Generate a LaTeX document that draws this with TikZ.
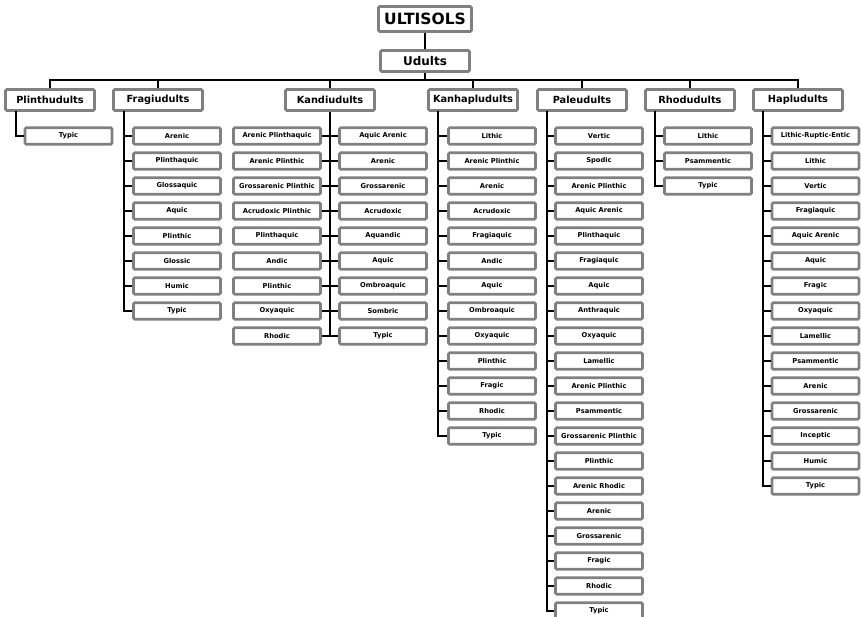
\documentclass[tikz,border=0pt]{standalone}
\usepackage{fontspec}
\setmainfont{DejaVu Sans}
\definecolor{boxgray}{RGB}{128,128,128}
\tikzset{
  basebox/.style={draw=boxgray, line width=2.6pt, fill=white, rounded corners=1.2pt, inner sep=0pt, anchor=center, font=\bfseries},
  topbox/.style={basebox, minimum width=93pt, minimum height=25pt, font=\bfseries\fontsize{15.5}{16}\selectfont},
  udbox/.style={basebox, minimum width=89pt, minimum height=21pt, font=\bfseries\fontsize{12}{13}\selectfont},
  grpbox/.style={basebox, minimum width=89pt, minimum height=21pt, font=\bfseries\fontsize{9.8}{10}\selectfont},
  leafbox/.style={basebox, minimum width=87pt, minimum height=16.5pt, font=\bfseries\fontsize{6.7}{7}\selectfont},
  conn/.style={draw=black, line width=2pt}
}
\begin{document}
\begin{tikzpicture}[x=1pt,y=-1pt]
\useasboundingbox (0,0) rectangle (861,617);
% connector anchor points
\coordinate (bus) at (425,80);
\coordinate (ta) at (16,111);
\coordinate (tb) at (124,111);
\coordinate (td) at (438,111);
\coordinate (te) at (547,111);
\coordinate (tf) at (655,111);
\coordinate (th) at (763,111);
% top
\node[topbox] (ult) at (425,19) {ULTISOLS};
\node[udbox] (ud) at (425,61) {Udults};
% groups
\node[grpbox] (g1) at (50,100) {Plinthudults};
\node[grpbox] (g2) at (158,100) {Fragiudults};
\node[grpbox] (g3) at (330,100) {Kandiudults};
\node[grpbox] (g4) at (473,100) {Kanhapludults};
\node[grpbox] (g5) at (582,100) {Paleudults};
\node[grpbox] (g6) at (690,100) {Rhodudults};
\node[grpbox] (g7) at (798,100) {Hapludults};
% leaves
\foreach \t [count=\i] in {Typic}
  \node[leafbox] (a\i) at (68.5,{136+25*(\i-1)}) {\t};
\foreach \t [count=\i] in {Arenic,Plinthaquic,Glossaquic,Aquic,Plinthic,Glossic,Humic,Typic}
  \node[leafbox] (b\i) at (177,{136+25*(\i-1)}) {\t};
\foreach \t [count=\i] in {Arenic Plinthaquic,Arenic Plinthic,Grossarenic Plinthic,Acrudoxic Plinthic,Plinthaquic,Andic,Plinthic,Oxyaquic,Rhodic}
  \node[leafbox] (cl\i) at (277,{136+25*(\i-1)}) {\t};
\foreach \t [count=\i] in {Aquic Arenic,Arenic,Grossarenic,Acrudoxic,Aquandic,Aquic,Ombroaquic,Sombric,Typic}
  \node[leafbox] (cr\i) at (383,{136+25*(\i-1)}) {\t};
\foreach \t [count=\i] in {Lithic,Arenic Plinthic,Arenic,Acrudoxic,Fragiaquic,Andic,Aquic,Ombroaquic,Oxyaquic,Plinthic,Fragic,Rhodic,Typic}
  \node[leafbox] (d\i) at (492,{136+25*(\i-1)}) {\t};
\foreach \t [count=\i] in {Vertic,Spodic,Arenic Plinthic,Aquic Arenic,Plinthaquic,Fragiaquic,Aquic,Anthraquic,Oxyaquic,Lamellic,Arenic Plinthic,Psammentic,Grossarenic Plinthic,Plinthic,Arenic Rhodic,Arenic,Grossarenic,Fragic,Rhodic,Typic}
  \node[leafbox] (e\i) at (599,{136+25*(\i-1)}) {\t};
\foreach \t [count=\i] in {Lithic,Psammentic,Typic}
  \node[leafbox] (f\i) at (708,{136+25*(\i-1)}) {\t};
\foreach \t [count=\i] in {Lithic-Ruptic-Entic,Lithic,Vertic,Fragiaquic,Aquic Arenic,Aquic,Fragic,Oxyaquic,Lamellic,Psammentic,Arenic,Grossarenic,Inceptic,Humic,Typic}
  \node[leafbox] (h\i) at (815.5,{136+25*(\i-1)}) {\t};
% connectors
\begin{scope}[conn]
  \draw (ult.south) -- (ud.north);
  \draw (ud.south) -- (ud.south |- bus);
  \draw (g1.north) -- (g1.north |- bus) -- (g7.north |- bus) -- (g7.north);
  \foreach \g in {g2,g3,g4,g5,g6}
    \draw (\g.north) -- (\g.north |- bus);
  \foreach \i in {1} \draw (ta) |- (a\i.west);
  \foreach \i in {1,...,8} \draw (tb) |- (b\i.west);
  \draw (g3.south) -- (g3.south |- cl9.east);
  \foreach \i in {1,...,9} \draw (cl\i.east) -- (cr\i.west);
  \foreach \i in {1,...,13} \draw (td) |- (d\i.west);
  \foreach \i in {1,...,20} \draw (te) |- (e\i.west);
  \foreach \i in {1,...,3} \draw (tf) |- (f\i.west);
  \foreach \i in {1,...,15} \draw (th) |- (h\i.west);
\end{scope}
\end{tikzpicture}
\end{document}
